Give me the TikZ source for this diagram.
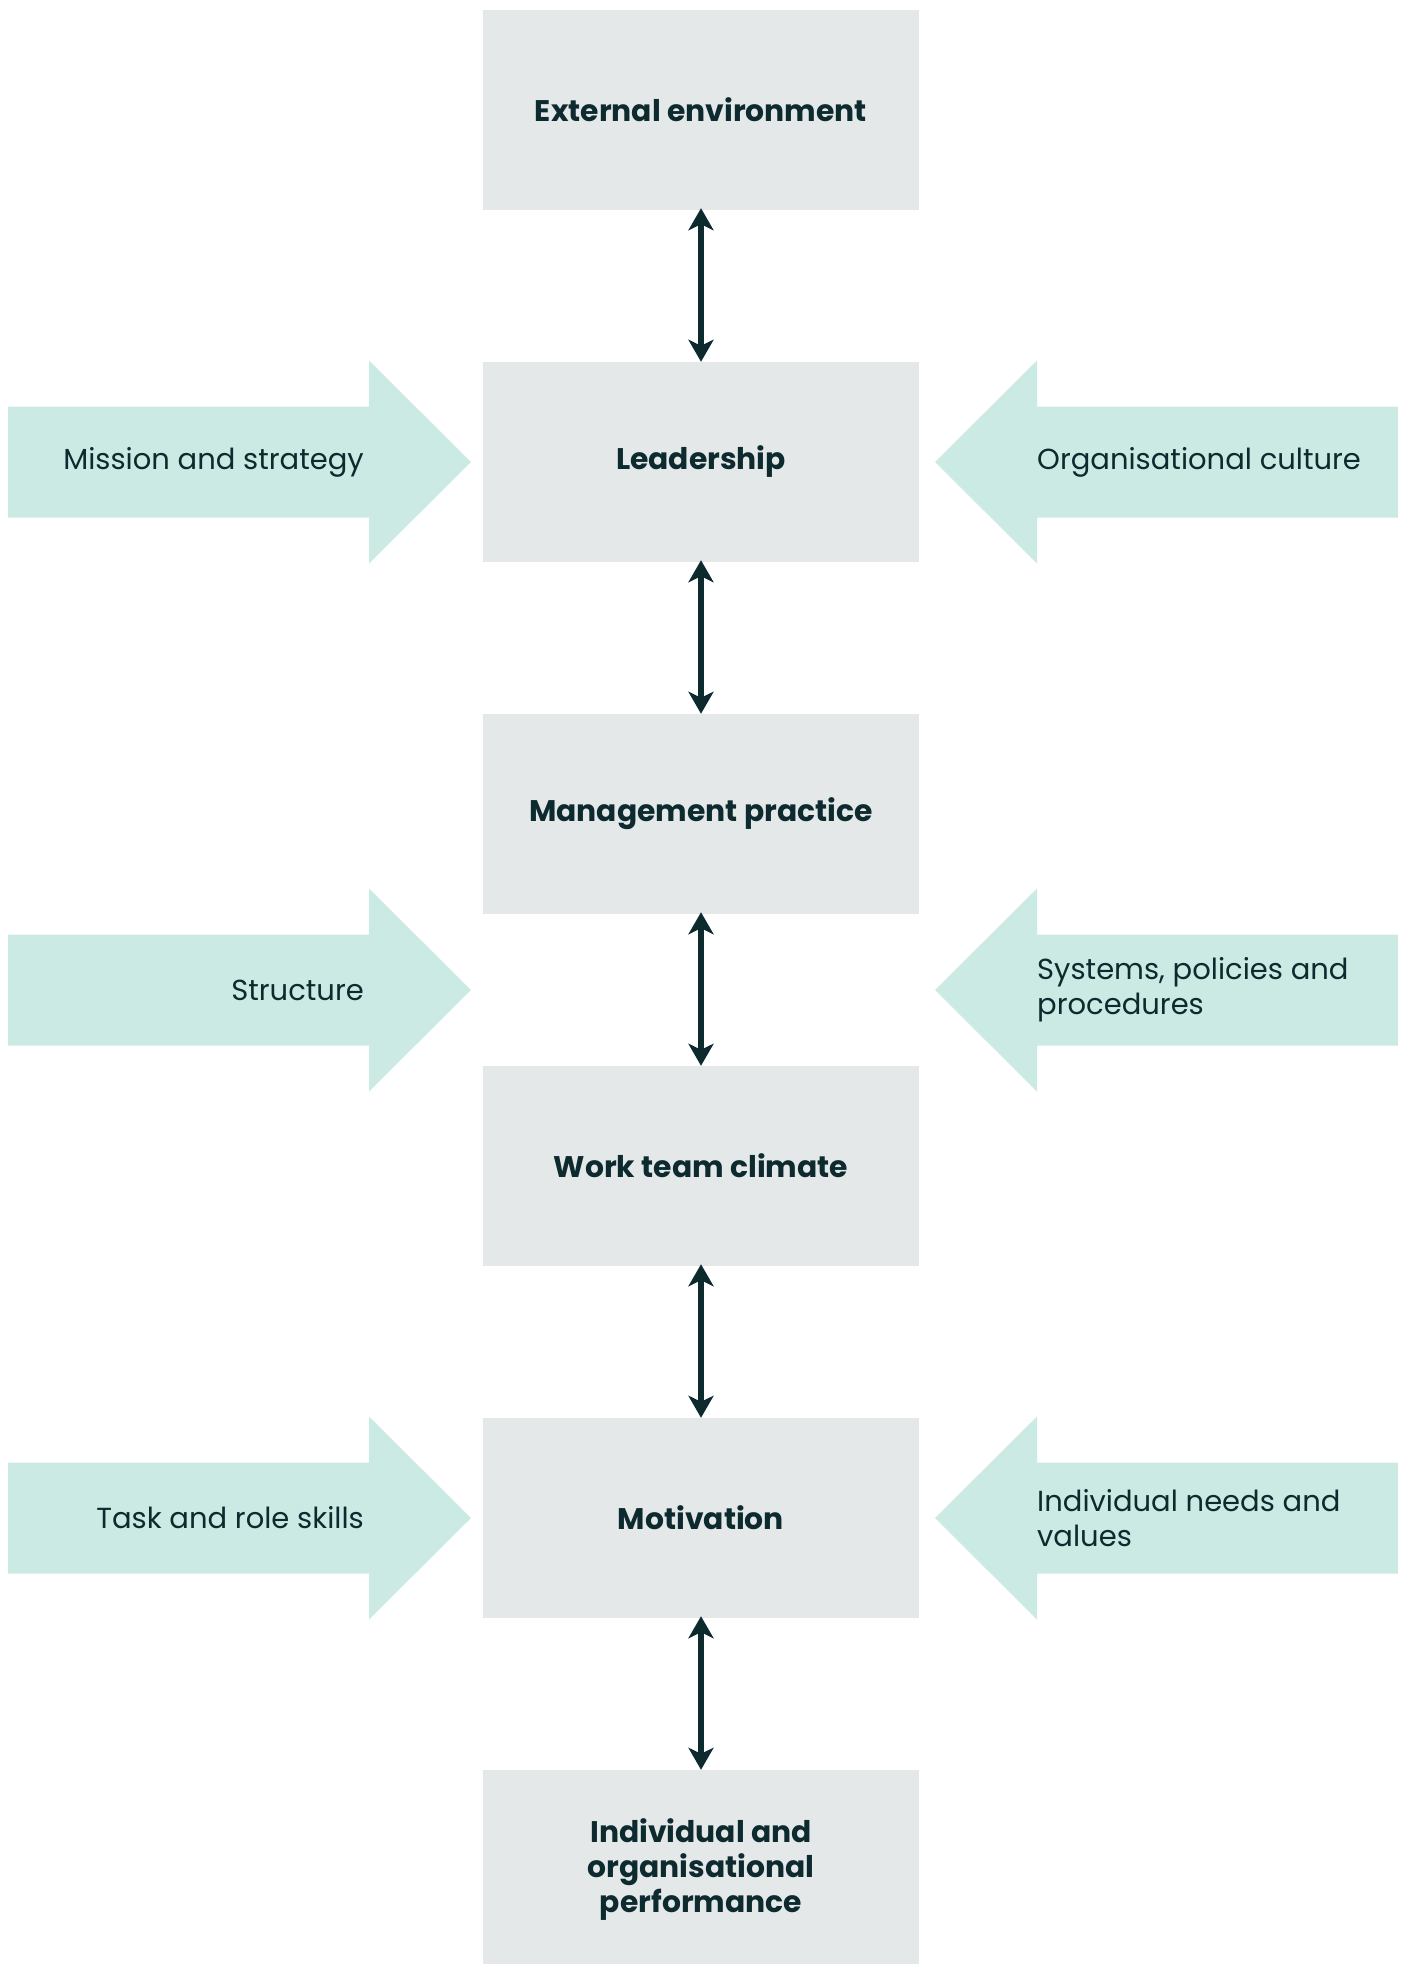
\documentclass[tikz,border=0pt]{standalone}
\usepackage{fontspec}
\setmainfont{Poppins}
\usetikzlibrary{arrows.meta}
\definecolor{boxfill}{HTML}{E4E8E9}
\definecolor{arrowfill}{HTML}{CCEAE4}
\definecolor{ink}{HTML}{0D2A2F}
\tikzset{
  mainbox/.style={fill=boxfill, minimum width=436pt, minimum height=200pt, inner sep=0pt,
    text=ink, font=\fontsize{29.8}{35}\selectfont\bfseries, align=center},
  sidetxt/.style={text=ink, font=\fontsize{29}{35}\selectfont, inner sep=0pt},
  link/.style={draw=ink, line width=5.5pt, shorten <=-2pt, {Stealth[length=22pt,width=25pt,inset=6pt]}-{Stealth[length=22pt,width=25pt,inset=6pt]}},
  sidearrow/.style={fill=arrowfill}
}
\newcommand{\leftarr}[1]{\fill[sidearrow] (8,#1-55.5) -- (369,#1-55.5) -- (369,#1-101.5) -- (471,#1) -- (369,#1+101.5) -- (369,#1+55.5) -- (8,#1+55.5) -- cycle;}
\newcommand{\rightarr}[1]{\fill[sidearrow] (1398,#1-55.5) -- (1037,#1-55.5) -- (1037,#1-101.5) -- (935,#1) -- (1037,#1+101.5) -- (1037,#1+55.5) -- (1398,#1+55.5) -- cycle;}
\begin{document}
\begin{tikzpicture}[x=1pt,y=-1pt]
\useasboundingbox (0,0) rectangle (1407,1964);
\begin{scope}
\clip (0,0) rectangle (1407,1964);
% side arrows
\leftarr{462}
\rightarr{462}
\leftarr{990}
\rightarr{990}
\leftarr{1518}
\rightarr{1518}
% boxes
\node[mainbox] (ext) at (701,110) {External environment};
\node[mainbox] (lead) at (701,462) {Leadership};
\node[mainbox] (mgmt) at (701,814) {Management practice};
\node[mainbox] (work) at (701,1166) {Work team climate};
\node[mainbox] (motiv) at (701,1518) {Motivation};
\node[mainbox] (perf) at (701,1870) {Individual and\\organisational\\performance};
\end{scope}
% side texts
\node[sidetxt, anchor=east] (mission) at (364,462) {Mission and strategy};
\node[sidetxt, anchor=west] (culture) at (1037,462) {Organisational culture};
\node[sidetxt, anchor=east] (structure) at (364,990) {Structure};
\node[sidetxt, anchor=west, align=left] (systems) at (1037,990) {Systems, policies and\\procedures};
\node[sidetxt, anchor=east] (task) at (364,1518) {Task and role skills};
\node[sidetxt, anchor=west, align=left] (needs) at (1037,1518) {Individual needs and\\values};
% links
\draw[link] (ext.south) -- (lead.north);
\draw[link] (lead.south) -- (mgmt.north);
\draw[link] (mgmt.south) -- (work.north);
\draw[link] (work.south) -- (motiv.north);
\draw[link] (motiv.south) -- (perf.north);
\end{tikzpicture}
\end{document}
